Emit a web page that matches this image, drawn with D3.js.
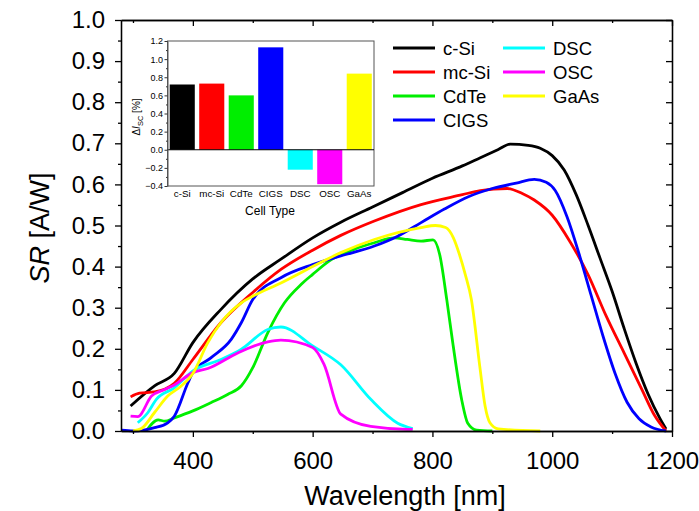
<!DOCTYPE html>
<html>
<head>
<meta charset="utf-8">
<script src="https://cdn.jsdelivr.net/npm/d3@7"></script>
<style>
  body { margin: 0; background: #fff; }
  svg { font-family: "Liberation Sans", Arial, sans-serif; }
</style>
</head>
<body>
<svg id="chart" width="699" height="511"></svg>
<script>
// spectral response curves, [wavelength nm, SR A/W]
var cSi = [[296,0.061],[336,0.11],[369,0.14],[400,0.215],[447,0.296],[500,0.37],[547,0.418],[600,0.47],
  [647,0.508],[700,0.545],[750,0.58],[800,0.615],[850,0.645],[880,0.665],[910,0.685],[930,0.698],[960,0.695],
  [980,0.688],[1000,0.67],[1020,0.635],[1040,0.575],[1060,0.5],[1080,0.42],[1100,0.34],[1120,0.25],
  [1140,0.165],[1160,0.09],[1180,0.03],[1190,0.005]];
var mcSi = [[296,0.083],[311,0.092],[336,0.095],[369,0.116],[400,0.174],[447,0.264],[500,0.337],[547,0.393],
  [600,0.44],[647,0.476],[703,0.511],[781,0.551],[850,0.575],[880,0.585],[925,0.59],[950,0.578],[970,0.562],
  [1000,0.525],[1030,0.46],[1060,0.38],[1090,0.28],[1120,0.19],[1150,0.1],[1170,0.04],[1190,0.0]];
var cdte = [[322,0.0],[342,0.027],[353,0.024],[369,0.032],[400,0.049],[430,0.069],[458,0.089],[481,0.11],
  [500,0.154],[525,0.239],[553,0.312],[581,0.357],[600,0.381],[628,0.414],[669,0.442],[703,0.458],
  [736,0.47],[758,0.466],[781,0.462],[801,0.465],[812,0.43],[824,0.319],[834,0.214],[849,0.075],
  [859,0.019],[874,0.002],[900,0.0]];
var cigs = [[281,0.002],[300,0.0],[336,0.008],[358,0.02],[369,0.036],[392,0.118],[400,0.142],[430,0.178],
  [464,0.223],[481,0.264],[500,0.32],[547,0.373],[600,0.405],[647,0.426],[703,0.45],[742,0.474],
  [781,0.507],[820,0.54],[860,0.57],[900,0.59],[940,0.603],[970,0.612],[990,0.605],[1005,0.585],
  [1025,0.52],[1045,0.43],[1065,0.33],[1085,0.23],[1105,0.14],[1125,0.07],[1145,0.03],[1165,0.01],[1190,0.0]];
var dsc = [[308,0.02],[325,0.045],[339,0.077],[369,0.105],[400,0.146],[447,0.174],[481,0.199],[525,0.247],
  [547,0.253],[600,0.207],[647,0.161],[697,0.077],[742,0.019],[767,0.006]];
var osc = [[296,0.036],[308,0.035],[331,0.085],[353,0.101],[369,0.112],[400,0.142],[425,0.152],[475,0.19],
  [525,0.217],[547,0.221],[600,0.203],[619,0.162],[647,0.041],[697,0.011],[758,0.004],[767,0.004]];
var gaas = [[300,0.0],[314,0.006],[336,0.045],[358,0.085],[381,0.11],[400,0.14],[425,0.215],[447,0.264],
  [481,0.312],[500,0.328],[547,0.36],[600,0.4],[647,0.434],[703,0.466],[781,0.495],[805,0.5],[822,0.495],
  [835,0.47],[845,0.43],[855,0.38],[865,0.32],[879,0.158],[888,0.06],[896,0.02],[910,0.005],[980,0.0]];

var seriesNames = ["c-Si", "mc-Si", "CdTe", "CIGS", "DSC", "OSC", "GaAs"];
var seriesColors = ["#000000", "#ff0000", "#00ee00", "#0000ff", "#00ffff", "#ff00ff", "#ffff00"];
var seriesData = [cSi, mcSi, cdte, cigs, dsc, osc, gaas];

// inset: short circuit current change per cell type
var cellTypes = seriesNames;
var deltaIsc = [0.72, 0.73, 0.60, 1.13, -0.22, -0.38, 0.84];

var xTicks = [400, 600, 800, 1000, 1200];
var xMinor = [300, 500, 700, 900, 1100];
var yTicks = d3.range(0, 10.5, 1).map(function(d) { return d / 10; });
var yMinor = d3.range(0.5, 10, 1).map(function(d) { return d / 10; });
var insetTicks = [-0.4, -0.2, 0.0, 0.2, 0.4, 0.6, 0.8, 1.0, 1.2];
var insetMinor = [-0.3, -0.1, 0.1, 0.3, 0.5, 0.7, 0.9, 1.1];

var svg = d3.select("#chart");
// plot frame (note: "top" is taken by window.top, so the edges get a prefix)
var pL = 121, pR = 672, pT = 20, pB = 431;

var x = d3.scaleLinear().domain([280, 1200]).range([pL, pR]);
var y = d3.scaleLinear().domain([0, 1.0]).range([pB, pT]);

// curves first so the frame sits on top
var line = d3.line()
    .x(function(d) { return x(d[0]); })
    .y(function(d) { return y(d[1]); })
    .curve(d3.curveMonotoneX);

svg.append("g").attr("class", "curves")
  .selectAll("path").data(seriesData).enter()
  .append("path")
    .attr("d", line)
    .attr("fill", "none")
    .attr("stroke", function(d, i) { return seriesColors[i]; })
    .attr("stroke-width", 2.8)
    .attr("stroke-linejoin", "round");

function styleAxis(g) {
  g.select(".domain").attr("stroke", "#000").attr("stroke-width", 1.3);
  g.selectAll(".tick line").attr("stroke", "#000").attr("stroke-width", 1.3);
}

// main axes
var gx = svg.append("g").attr("transform", "translate(0," + pB + ")")
  .call(d3.axisBottom(x).tickValues(xTicks).tickSize(6).tickPadding(15).tickSizeOuter(0)
    .tickFormat(d3.format("d")));
gx.selectAll("text").attr("font-size", 24).attr("fill", "#000");
styleAxis(gx);
svg.append("g").attr("transform", "translate(0," + pB + ")")
  .call(d3.axisBottom(x).tickValues(xMinor).tickSize(3).tickFormat("").tickSizeOuter(0))
  .call(styleAxis);

svg.append("g").attr("transform", "translate(0," + pT + ")")
  .call(d3.axisTop(x).tickValues(xTicks).tickSize(-6).tickFormat("").tickSizeOuter(0))
  .call(styleAxis);
svg.append("g").attr("transform", "translate(0," + pT + ")")
  .call(d3.axisTop(x).tickValues(xMinor).tickSize(-3).tickFormat("").tickSizeOuter(0))
  .call(styleAxis);

var gy = svg.append("g").attr("transform", "translate(" + pL + ",0)")
  .call(d3.axisLeft(y).tickValues(yTicks).tickSize(6).tickPadding(10).tickSizeOuter(0)
    .tickFormat(d3.format(".1f")));
gy.selectAll("text").attr("font-size", 24).attr("fill", "#000");
styleAxis(gy);
svg.append("g").attr("transform", "translate(" + pL + ",0)")
  .call(d3.axisLeft(y).tickValues(yMinor).tickSize(3).tickFormat("").tickSizeOuter(0))
  .call(styleAxis);

svg.append("g").attr("transform", "translate(" + pR + ",0)")
  .call(d3.axisRight(y).tickValues(yTicks).tickSize(-6).tickFormat("").tickSizeOuter(0))
  .call(styleAxis);
svg.append("g").attr("transform", "translate(" + pR + ",0)")
  .call(d3.axisRight(y).tickValues(yMinor).tickSize(-3).tickFormat("").tickSizeOuter(0))
  .call(styleAxis);

svg.append("text")
  .attr("x", 405).attr("y", 505)
  .attr("text-anchor", "middle").attr("font-size", 27)
  .text("Wavelength [nm]");

var yl = svg.append("text")
  .attr("transform", "translate(49,228) rotate(-90)")
  .attr("text-anchor", "middle").attr("font-size", 27);
yl.append("tspan").attr("font-style", "italic").text("SR");
yl.append("tspan").text(" [A/W]");

// legend, two columns
var legendPos = [[393, 48], [393, 72], [393, 96], [393, 120], [503, 48], [503, 72], [503, 96]];
var lg = svg.append("g").selectAll("g").data(seriesNames).enter().append("g")
  .attr("transform", function(d, i) { return "translate(" + legendPos[i][0] + "," + legendPos[i][1] + ")"; });
lg.append("line").attr("x1", 0).attr("x2", 42)
  .attr("stroke", function(d, i) { return seriesColors[i]; })
  .attr("stroke-width", 2.8);
lg.append("text").attr("x", 50).attr("y", 6.5).attr("font-size", 18.5).text(function(d) { return d; });

// inset bar chart
var iL = 167.5, iR = 374, iT = 41, iB = 186;
var ix = d3.scaleBand().domain(cellTypes).range([iL, iR]).paddingInner(0.15).paddingOuter(0.075);
var iy = d3.scaleLinear().domain([-0.4, 1.2]).range([iB, iT]);

var inset = svg.append("g").attr("class", "inset");
inset.append("rect")
  .attr("x", iL).attr("y", iT).attr("width", iR - iL).attr("height", iB - iT)
  .attr("fill", "#fff").attr("stroke", "#555").attr("stroke-width", 1);

inset.selectAll("rect.bar").data(deltaIsc).enter().append("rect")
  .attr("class", "bar")
  .attr("x", function(d, i) { return ix(cellTypes[i]); })
  .attr("width", ix.bandwidth())
  .attr("y", function(d) { return iy(Math.max(0, d)); })
  .attr("height", function(d) { return Math.abs(iy(d) - iy(0)); })
  .attr("fill", function(d, i) { return seriesColors[i]; });

inset.append("line")
  .attr("x1", iL).attr("x2", iR).attr("y1", iy(0)).attr("y2", iy(0))
  .attr("stroke", "#000").attr("stroke-width", 1);

var giy = inset.append("g").attr("transform", "translate(" + iL + ",0)")
  .call(d3.axisLeft(iy).tickValues(insetTicks).tickSize(3).tickPadding(1.5).tickSizeOuter(0)
    .tickFormat(d3.format(".1f")));
giy.select(".domain").attr("stroke", "#555");
giy.selectAll(".tick line").attr("stroke", "#333");
giy.selectAll("text").attr("font-size", 9).attr("fill", "#000");
inset.append("g").attr("transform", "translate(" + iL + ",0)")
  .call(d3.axisLeft(iy).tickValues(insetMinor).tickSize(1.5).tickFormat("").tickSizeOuter(0))
  .call(function(g) { g.select(".domain").remove(); g.selectAll(".tick line").attr("stroke", "#333"); });

var gix = inset.append("g").attr("transform", "translate(0," + iB + ")")
  .call(d3.axisBottom(ix).tickSize(0).tickPadding(4));
gix.select(".domain").remove();
gix.selectAll("text").attr("font-size", 9.8).attr("fill", "#000");

inset.append("text")
  .attr("x", 270).attr("y", 215).attr("text-anchor", "middle").attr("font-size", 12)
  .text("Cell Type");

var il = inset.append("text")
  .attr("transform", "translate(140,117) rotate(-90)")
  .attr("text-anchor", "middle").attr("font-size", 10);
il.append("tspan").text("Δ");
il.append("tspan").attr("font-style", "italic").text("I");
il.append("tspan").attr("font-size", 7.5).attr("dy", 2.5).text("SC");
il.append("tspan").attr("dy", -2.5).text(" [%]");
</script>
</body>
</html>
